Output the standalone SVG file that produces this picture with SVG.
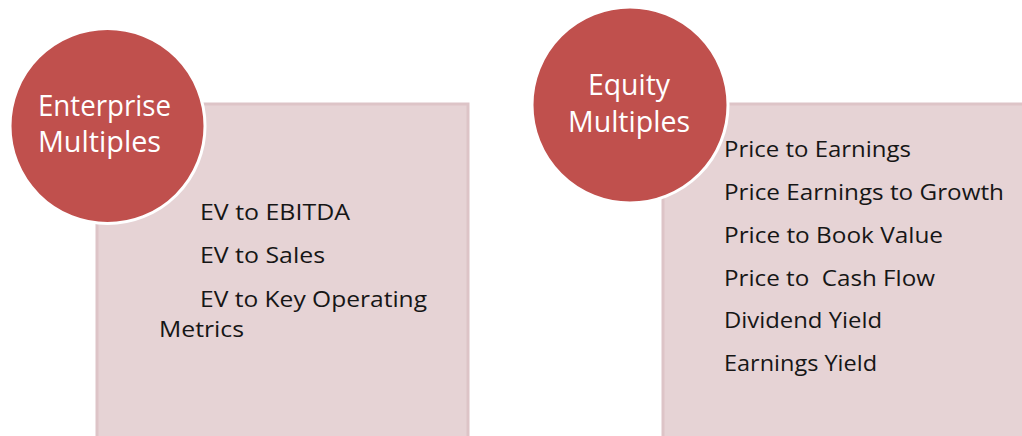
<svg xmlns="http://www.w3.org/2000/svg" width="1022" height="436" viewBox="0 0 1022 436">
  <style>
    .panel { fill: #E6D3D5; stroke: #DDC4C7; stroke-width: 3; }
    .badge { fill: #C0504D; stroke: #FFFFFF; stroke-width: 3; }
    .title { font-family: "Open Sans", "Liberation Sans", sans-serif; font-size: 30px; fill: #FFFFFF; }
    .item { font-family: "Open Sans", "Liberation Sans", sans-serif; font-size: 21.5px; fill: #161616; white-space: pre; }
  </style>
  <rect width="1022" height="436" fill="#FFFFFF"/>

  <!-- Enterprise multiples panel -->
  <g id="enterprise-panel">
    <rect class="panel" x="97" y="104" width="371" height="340"/>
    <text class="item" x="200" y="220" textLength="150" lengthAdjust="spacingAndGlyphs">EV to EBITDA</text>
    <text class="item" x="200" y="263" textLength="125" lengthAdjust="spacingAndGlyphs">EV to Sales</text>
    <text class="item" x="200" y="307" textLength="227" lengthAdjust="spacingAndGlyphs">EV to Key Operating</text>
    <text class="item" x="159" y="337" textLength="85" lengthAdjust="spacingAndGlyphs">Metrics</text>
  </g>

  <g id="enterprise-badge">
    <circle class="badge" cx="107.5" cy="126" r="97.5"/>
    <text class="title" x="38" y="116" textLength="133" lengthAdjust="spacingAndGlyphs">Enterprise</text>
    <text class="title" x="38" y="152" textLength="123" lengthAdjust="spacingAndGlyphs">Multiples</text>
  </g>

  <!-- Equity multiples panel -->
  <g id="equity-panel">
    <rect class="panel" x="663" y="104" width="370" height="340"/>
    <text class="item" x="724" y="157" textLength="187" lengthAdjust="spacingAndGlyphs">Price to Earnings</text>
    <text class="item" x="724" y="200" textLength="280" lengthAdjust="spacingAndGlyphs">Price Earnings to Growth</text>
    <text class="item" x="724" y="243" textLength="219" lengthAdjust="spacingAndGlyphs">Price to Book Value</text>
    <text class="item" x="724" y="286" textLength="211" lengthAdjust="spacingAndGlyphs" xml:space="preserve">Price to  Cash Flow</text>
    <text class="item" x="724" y="328" textLength="158" lengthAdjust="spacingAndGlyphs">Dividend Yield</text>
    <text class="item" x="724" y="371" textLength="153" lengthAdjust="spacingAndGlyphs">Earnings Yield</text>
  </g>

  <g id="equity-badge">
    <circle class="badge" cx="630" cy="105" r="98"/>
    <text class="title" x="588" y="95" textLength="82" lengthAdjust="spacingAndGlyphs">Equity</text>
    <text class="title" x="568" y="132" textLength="122" lengthAdjust="spacingAndGlyphs">Multiples</text>
  </g>

  <g id="connectors"/>
</svg>
